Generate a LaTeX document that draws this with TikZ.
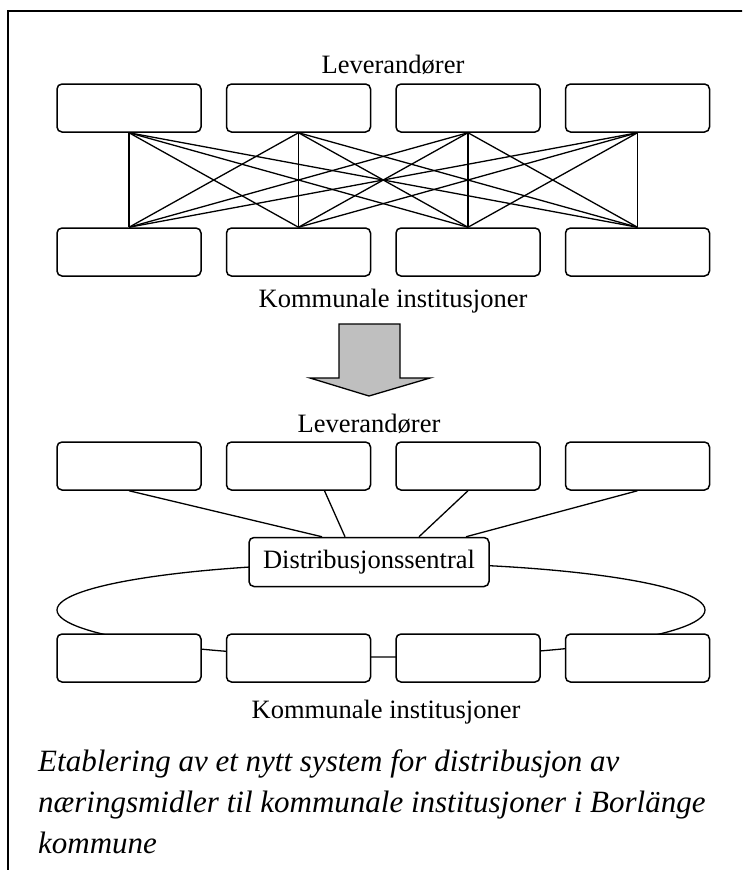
\documentclass[tikz,border=0pt]{standalone}
\usepackage{fontspec}
\setmainfont{Liberation Serif}
\usetikzlibrary{positioning,shapes.geometric}

\begin{document}
\begin{tikzpicture}[x=1pt,y=-1pt,node distance=24pt,
    font=\fontsize{26.5}{32}\selectfont,
    box/.style={draw,rounded corners=5pt,fill=white,line width=1.5pt,
      minimum width=144pt,minimum height=48pt,inner sep=0pt},
    link/.style={line width=1.3pt},
    caption/.style={anchor=base west,inner sep=0pt,
      font=\fontsize{31}{41}\selectfont\itshape}]
  \useasboundingbox (0,0) rectangle (742,870);
  \clip (0,0) rectangle (742,870);
  \draw[line width=1.5pt] (8,900) -- (8,11) -- (760,11);

  % today: every supplier to every institution
  \node (lev1) [anchor=base] at (393,73) {Leverandører};
  \node[box] (a1) at (129,108) {};
  \node[box] (a2) [right=of a1] {};
  \node[box] (a3) [right=of a2] {};
  \node[box] (a4) [right=of a3] {};
  \node[box] (b1) at (129,252) {};
  \node[box] (b2) [right=of b1] {};
  \node[box] (b3) [right=of b2] {};
  \node[box] (b4) [right=of b3] {};
  \node (kom1) [anchor=base] at (393,307) {Kommunale institusjoner};

  \path[link] (a1.south) edge (b1.north) edge (b2.north) edge (b3.north) edge (b4.north)
        (a2.south) edge (b1.north) edge (b2.north) edge (b3.north) edge (b4.north)
        (a3.south) edge (b1.north) edge (b2.north) edge (b3.north) edge (b4.north)
        (a4.south) edge (b1.north) edge (b2.north) edge (b3.north) edge (b4.north);

  \filldraw[fill=gray!50,line width=1.3pt] (339,324) -- (400,324) -- (400,378)
    -- (430,378) -- (369,396) -- (310,378) -- (339,378) -- cycle;

  % new: via the distribution centre, ring round the institutions
  \node[ellipse,draw,line width=1.3pt,minimum width=648pt,minimum height=94pt,
    inner sep=0pt] (ring) at (381,610) {};
  \node (lev2) [anchor=base] at (369,432) {Leverandører};
  \node[box] (c1) at (129,466) {};
  \node[box] (c2) [right=of c1] {};
  \node[box] (c3) [right=of c2] {};
  \node[box] (c4) [right=of c3] {};
  \node[box,minimum width=240pt,minimum height=49pt] (dist) at (369,562)
    {Distribusjonssentral};
  \node[box] (d1) at (129,658) {};
  \node[box] (d2) [right=of d1] {};
  \node[box] (d3) [right=of d2] {};
  \node[box] (d4) [right=of d3] {};
  \node (kom2) [anchor=base] at (386,718) {Kommunale institusjoner};

  \path[link] (c1.south) edge ([xshift=-47pt]dist.north)
        ([xshift=26pt]c2.south) edge ([xshift=-24pt]dist.north)
        (c3.south) edge ([xshift=50pt]dist.north)
        (c4.south) edge ([xshift=97pt]dist.north);

  \begin{scope}
    \clip (0,0) rectangle (742,853);
    \node[caption] (cap1) at (38,771) {Etablering av et nytt system for distribusjon av};
    \node[caption] (cap2) at (38,812) {næringsmidler til kommunale institusjoner i Borlänge};
    \node[caption] (cap3) at (38,853) {kommune};
  \end{scope}
\end{tikzpicture}
\end{document}
